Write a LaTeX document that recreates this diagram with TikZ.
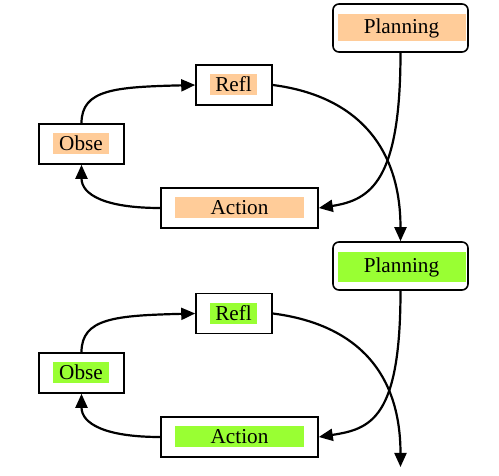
\documentclass[tikz,border=0pt]{standalone}
\usepackage{fontspec}
\setmainfont{Liberation Serif}
\usepackage{tikz}
\usetikzlibrary{arrows.meta, positioning}
\definecolor{tagpeach}{RGB}{255,204,153}
\definecolor{taglime}{RGB}{153,255,51}

\begin{document}
\begin{tikzpicture}[
    x=0.5pt, y=-0.5pt,
    frame/.style={rectangle, draw, line width=0.8pt, fill=white, minimum height=20pt, inner sep=0pt},
    plan/.style={frame, rounded corners=3pt, minimum width=67.5pt, minimum height=24pt},
    tag/.style={rectangle, fill=#1, inner sep=0pt, minimum height=10.5pt, font=\fontsize{10.6}{12}\selectfont},
    arrow/.style={-{Triangle[length=7pt, width=6pt]}, line width=1.1pt}
]
\useasboundingbox (0,0) rectangle (499,476);

% First cycle
\node[plan] (plan1) at (400.5,28) {};
\node[tag=tagpeach, minimum width=64pt, minimum height=13.5pt] (plantag1) at (401.5,28) {Planning};
\node[frame, minimum width=38pt] (refl1) at (234,85) {};
\node[tag=tagpeach, minimum width=23.5pt] (refltag1) at (233.5,84.5) {Refl};
\node[frame, minimum width=42.5pt] (obse1) at (81.5,144) {};
\node[tag=tagpeach, minimum width=28pt] (obsetag1) at (81,143.5) {Obse};
\node[frame, minimum width=78.5pt] (action1) at (239.5,208) {};
\node[tag=tagpeach, minimum width=64.5pt] (actiontag1) at (239.5,207.5) {Action};

% Second cycle
\node[plan] (plan2) at (400.5,266) {};
\node[tag=taglime, minimum width=64pt, minimum height=15pt] (plantag2) at (401.5,267) {Planning};
\node[frame, minimum width=38pt] (refl2) at (234,313.5) {};
\node[tag=taglime, minimum width=23.5pt] (refltag2) at (233.5,313.5) {Refl};
\node[frame, minimum width=42.5pt] (obse2) at (81.5,373) {};
\node[tag=taglime, minimum width=28pt] (obsetag2) at (81,372.5) {Obse};
\node[frame, minimum width=78.5pt] (action2) at (239.5,437) {};
\node[tag=taglime, minimum width=64.5pt] (actiontag2) at (239.5,436.5) {Action};
\coordinate (out2) at (400.5,467);

% Arrows, first cycle
\draw[arrow] (obse1.north) .. controls +(0,-34) and +(-80,2) .. (refl1.west);
\draw[arrow] (action1.west) .. controls +(-55,0) and +(0,30) .. (obse1.south);
\draw[arrow] (plan1.south) .. controls +(0,128) and +(52,-8) .. (action1.east);
\draw[arrow] (refl1.east) .. controls +(78,10) and +(0,-100) .. (plan2.north);

% Arrows, second cycle
\draw[arrow] (obse2.north) .. controls +(0,-34) and +(-80,2) .. (refl2.west);
\draw[arrow] (action2.west) .. controls +(-55,0) and +(0,30) .. (obse2.south);
\draw[arrow] (plan2.south) .. controls +(0,128) and +(52,-8) .. (action2.east);
\draw[arrow] (refl2.east) .. controls +(78,10) and +(0,-100) .. (out2);

\end{tikzpicture}
\end{document}
